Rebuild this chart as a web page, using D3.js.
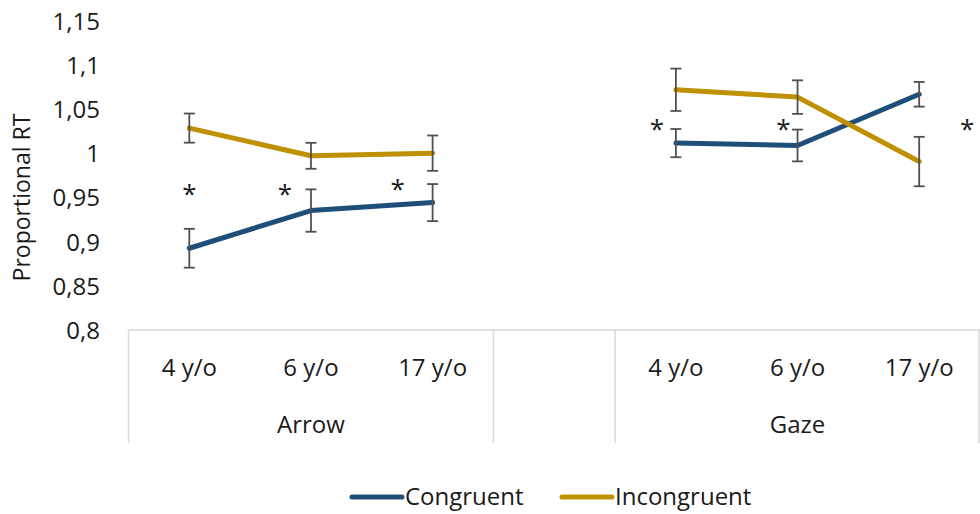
<!DOCTYPE html>
<html>
<head>
<meta charset="utf-8">
<script src="https://cdn.jsdelivr.net/npm/d3@7"></script>
<style>
  html, body { margin: 0; padding: 0; background: #fff; }
  svg { display: block; font-family: "Open Sans", sans-serif; }
</style>
</head>
<body>
<svg id="chart" width="980" height="514"></svg>
<script>
// ---- data ----
const groups = ["Arrow", "", "Gaze"];
const ages = ["4 y/o", "6 y/o", "17 y/o"];
const slots = ["Arrow|4 y/o", "Arrow|6 y/o", "Arrow|17 y/o", "gap", "Gaze|4 y/o", "Gaze|6 y/o", "Gaze|17 y/o"];
const yTicks = [0.8, 0.85, 0.9, 0.95, 1, 1.05, 1.1, 1.15];

const congruentArrow = [0.8926, 0.9353, 0.9443];
const congruentArrowErr = [0.022, 0.024, 0.021];
const congruentGaze = [1.0117, 1.009, 1.067];
const congruentGazeErr = [0.016, 0.018, 0.014];

const incongruentArrow = [1.0287, 0.9973, 1.0003];
const incongruentArrowErr = [0.0165, 0.0147, 0.02];
const incongruentGaze = [1.0721, 1.0638, 0.9908];
const incongruentGazeErr = [0.024, 0.019, 0.028];

// significance markers: slot and value level
const starSlots = ["Arrow|4 y/o", "Arrow|6 y/o", "Arrow|17 y/o", "Gaze|4 y/o", "Gaze|6 y/o", "Gaze|17 y/o"];
const starValues = [0.955, 0.955, 0.961, 1.029, 1.029, 1.029];
// ---- layout ----
const starDx = [0, -26, -35, -19, -14, 48];

const svg = d3.select("#chart");
const margin = { left: 128.5, right: 980, top: 21, bottom: 330 };

const x = d3.scaleBand().domain(slots).range([margin.left, margin.right]).padding(0);
const y = d3.scaleLinear().domain([0.8, 1.15]).range([margin.bottom, margin.top]);

const blue = "#1F4E79";
const gold = "#BF9000";
const grid = "#D9D9D9";
const textColor = "#1a1a1a";
const fs = 24;

// y axis ticks (no axis line)
const yAxis = d3.axisLeft(y).tickValues(yTicks).tickSize(0).tickPadding(0)
  .tickFormat(d => d3.format("")(+d.toFixed(2)).replace(".", ","));
const yg = svg.append("g").attr("transform", `translate(100,0)`).call(yAxis);
yg.select(".domain").remove();
yg.selectAll("text").attr("font-size", fs).attr("fill", textColor)
  .attr("font-family", "Open Sans, sans-serif").attr("dy", "0.35em");

// y title
svg.append("text")
  .attr("transform", `translate(30,${(margin.top + margin.bottom) / 2 + 22}) rotate(-90)`)
  .attr("text-anchor", "middle")
  .attr("font-size", 23).attr("fill", textColor)
  .text("Proportional RT");

// x axis line
svg.append("line")
  .attr("x1", margin.left).attr("x2", margin.right)
  .attr("y1", y(0.8)).attr("y2", y(0.8))
  .attr("stroke", grid).attr("stroke-width", 1.5);

// group separators
const groupBounds = [0, 3, 4, 7];
groupBounds.forEach(i => {
  const xx = i < slots.length ? x(slots[i]) : margin.right - 1;
  svg.append("line")
    .attr("x1", xx).attr("x2", xx)
    .attr("y1", y(0.8)).attr("y2", 443)
    .attr("stroke", grid).attr("stroke-width", 1.5);
});

// category labels
const xAxis = d3.axisBottom(x).tickSize(0).tickPadding(0)
  .tickFormat(d => d === "gap" ? "" : d.split("|")[1]);
const xg = svg.append("g").attr("transform", `translate(0,368)`).call(xAxis);
xg.select(".domain").remove();
xg.selectAll("text").attr("font-size", fs).attr("fill", textColor)
  .attr("font-family", "Open Sans, sans-serif").attr("dy", "0.35em");

// group labels
const groupCenters = { Arrow: [slots[0], slots[2]], Gaze: [slots[4], slots[6]] };
Object.entries(groupCenters).forEach(([g, [a, b]]) => {
  const cx = (x(a) + x(b) + x.bandwidth()) / 2;
  svg.append("text").attr("x", cx).attr("y", 425).attr("dy", "0.35em")
    .attr("text-anchor", "middle").attr("font-size", fs).attr("fill", textColor)
    .text(g);
});

const cx = s => x(s) + x.bandwidth() / 2;

function series(group, vals, errs) {
  return vals.map((v, i) => ({ slot: group + "|" + ages[i], v, e: errs[i] }));
}

const seriesList = [
  { color: blue, parts: [series("Arrow", congruentArrow, congruentArrowErr), series("Gaze", congruentGaze, congruentGazeErr)] },
  { color: gold, parts: [series("Arrow", incongruentArrow, incongruentArrowErr), series("Gaze", incongruentGaze, incongruentGazeErr)] }
];

const line = d3.line().x(d => cx(d.slot)).y(d => y(d.v));

// lines
seriesList.forEach(s => {
  s.parts.forEach(p => {
    svg.append("path").datum(p)
      .attr("d", line).attr("fill", "none")
      .attr("stroke", s.color).attr("stroke-width", 5)
      .attr("stroke-linejoin", "round").attr("stroke-linecap", "round");
  });
});

// error bars
seriesList.forEach(s => {
  s.parts.forEach(p => {
    const g = svg.append("g").attr("stroke", "#505050").attr("stroke-width", 1.8);
    p.forEach(d => {
      const xx = cx(d.slot);
      g.append("line").attr("x1", xx).attr("x2", xx).attr("y1", y(d.v + d.e)).attr("y2", y(d.v - d.e));
      g.append("line").attr("x1", xx - 5.5).attr("x2", xx + 5.5).attr("y1", y(d.v + d.e)).attr("y2", y(d.v + d.e));
      g.append("line").attr("x1", xx - 5.5).attr("x2", xx + 5.5).attr("y1", y(d.v - d.e)).attr("y2", y(d.v - d.e));
    });
  });
});

// asterisks
starSlots.forEach((s, i) => {
  svg.append("text")
    .attr("x", cx(s) + starDx[i]).attr("y", y(starValues[i]) + 10)
    .attr("text-anchor", "middle").attr("font-size", 26).attr("fill", textColor)
    .text("*");
});

// legend
const legend = [{ name: "Congruent", color: blue, x: 352 }, { name: "Incongruent", color: gold, x: 562 }];
legend.forEach(l => {
  svg.append("line").attr("x1", l.x).attr("x2", l.x + 50).attr("y1", 497).attr("y2", 497)
    .attr("stroke", l.color).attr("stroke-width", 5).attr("stroke-linecap", "round");
  svg.append("text").attr("x", l.x + 53).attr("y", 497).attr("dy", "0.35em")
    .attr("font-size", fs).attr("fill", textColor).text(l.name);
});
</script>
</body>
</html>
